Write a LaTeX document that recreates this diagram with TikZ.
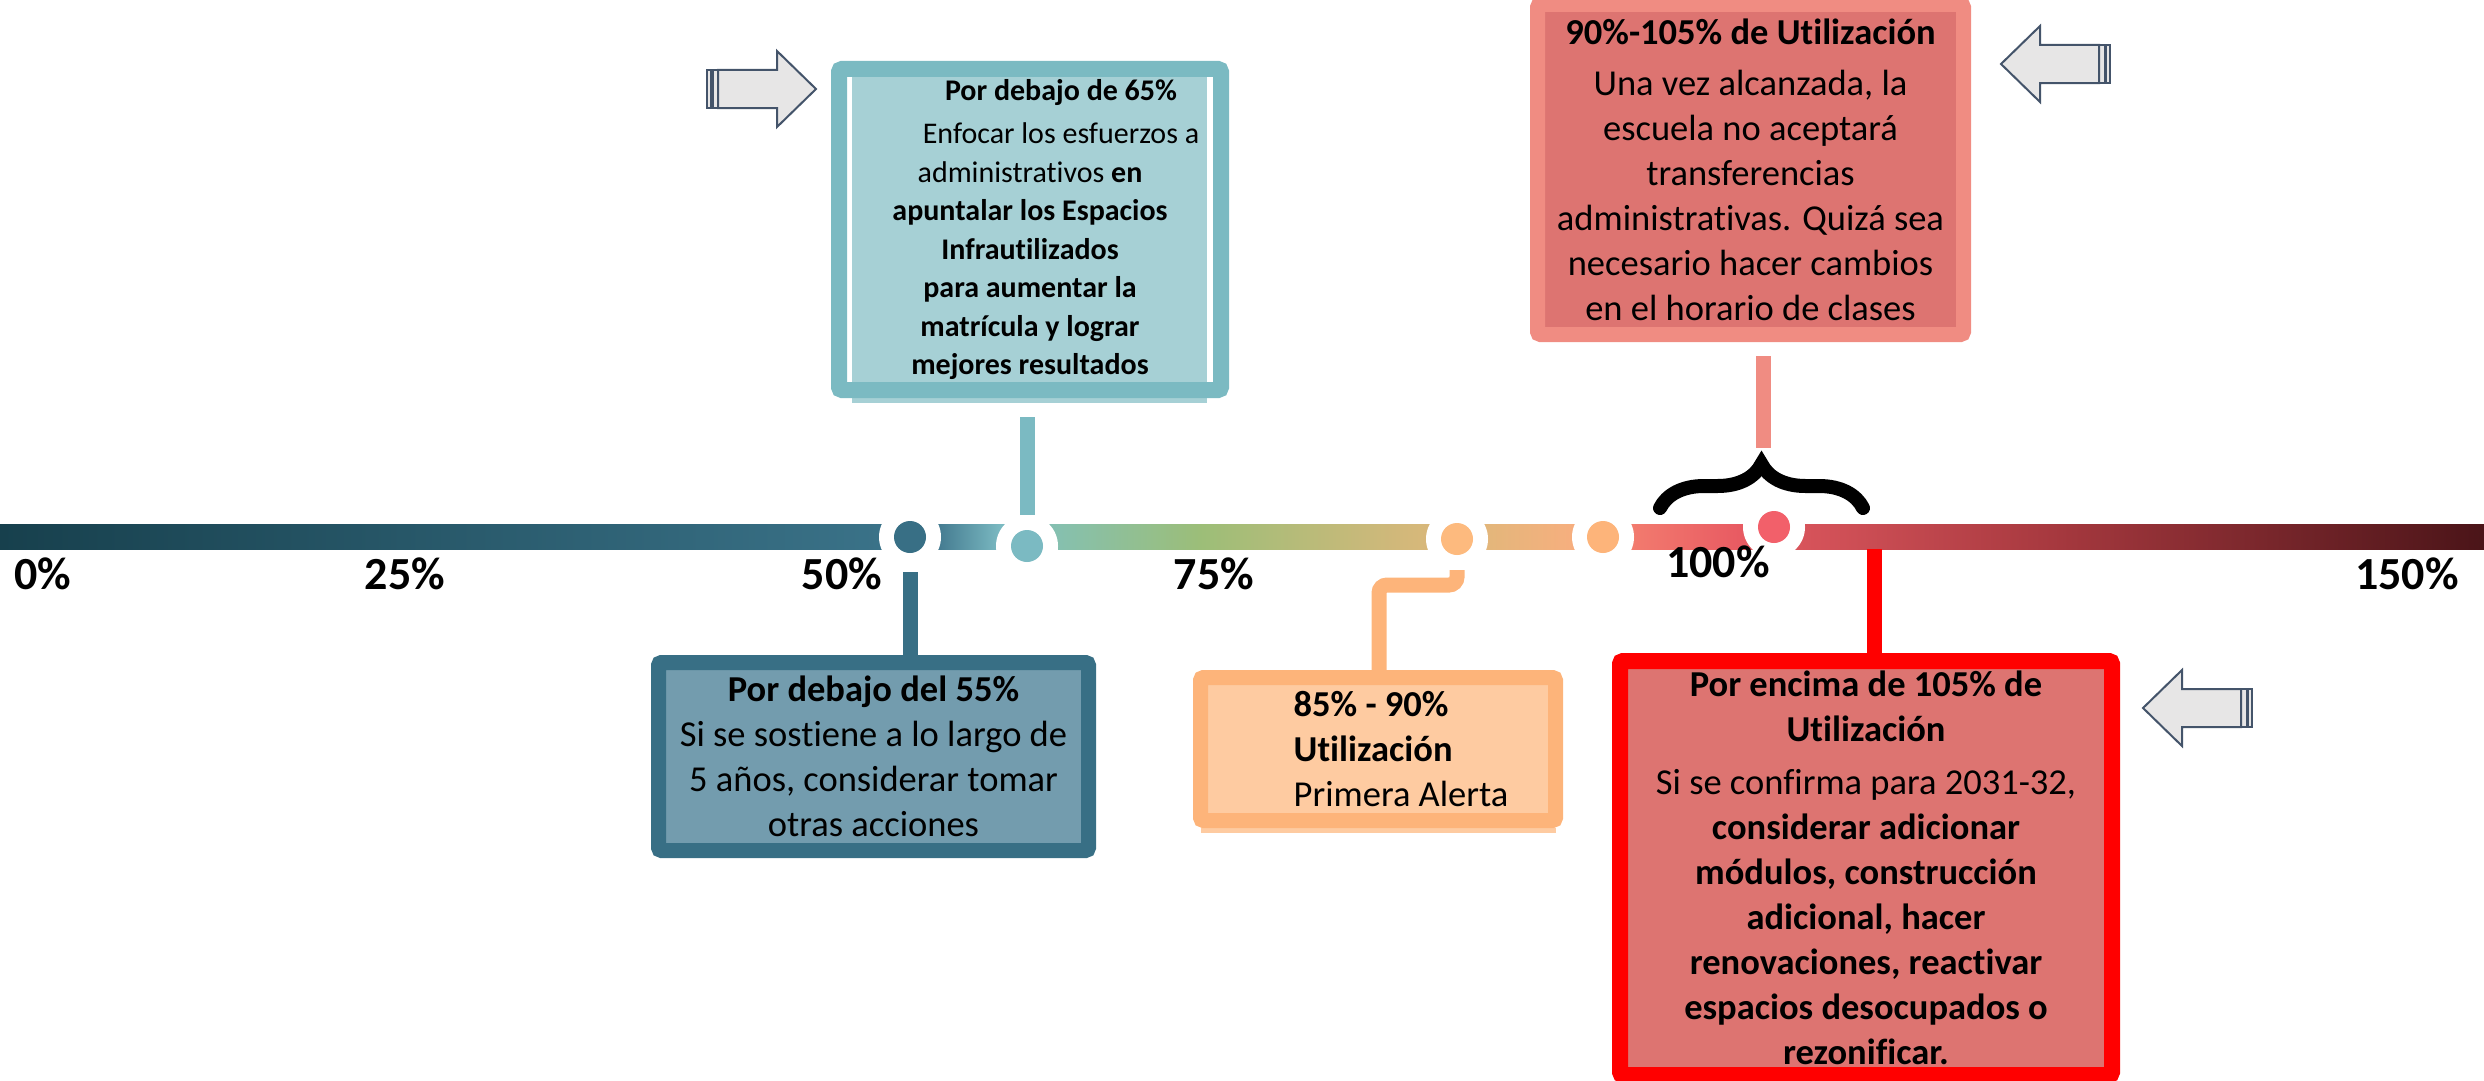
\documentclass[tikz,border=0pt]{standalone}
\usepackage{fontspec}
\setmainfont{Carlito}[Ligatures=NoCommon]
\usetikzlibrary{decorations.pathreplacing}
\definecolor{tealdark}{HTML}{386F85}
\definecolor{tealbox}{HTML}{739CAE}
\definecolor{teallight}{HTML}{7BBAC2}
\definecolor{tealpale}{HTML}{A6D0D5}
\definecolor{orangeline}{HTML}{FDB47A}
\definecolor{orangebox}{HTML}{FECBA1}
\definecolor{orangedot}{HTML}{FDBA7E}
\definecolor{salmon}{HTML}{F08C82}
\definecolor{rosebox}{HTML}{DD7471}
\definecolor{pinkdot}{HTML}{F2606A}
\definecolor{arrowfill}{HTML}{E7E6E6}
\definecolor{arrowline}{HTML}{44546A}
\definecolor{barA}{HTML}{17404D}
\definecolor{barB}{HTML}{3A7288}
\definecolor{barC}{HTML}{467D92}
\definecolor{barD}{HTML}{7BBAC2}
\definecolor{barE}{HTML}{86C0AE}
\definecolor{barF}{HTML}{9CBE78}
\definecolor{barG}{HTML}{D2B87A}
\definecolor{barH}{HTML}{E4B67B}
\definecolor{barI}{HTML}{F6AF7E}
\definecolor{barJ}{HTML}{F27A6E}
\definecolor{barK}{HTML}{E85A62}
\definecolor{barL}{HTML}{D6535A}
\definecolor{barM}{HTML}{A5383E}
\definecolor{barN}{HTML}{4A1418}
\tikzset{
  dot/.style={circle, fill=white, minimum size=62pt, inner sep=0pt,
    path picture={\fill[#1] (path picture bounding box.center) circle (16pt);}},
  box/.style={rectangle, rounded corners=3pt, inner sep=0pt, align=center},
  txt/.style={font=\fontsize{36.5}{45}\selectfont},
  link/.style={line width=15pt},
  pct/.style={anchor=base, font=\fontsize{46}{50}\selectfont\bfseries},
  arrline/.style={draw=arrowline, fill=arrowfill, line width=2pt, line join=miter},
  fatarrow/.pic={
    \path[arrline] (0,-19) rectangle (4,19);
    \path[arrline] (5.5,-19) rectangle (11,19);
    \path[arrline] (11,-19) -- (70,-19) -- (70,-38) -- (109,0) -- (70,38) -- (70,19) -- (11,19) -- cycle;
  }
}

\begin{document}
\begin{tikzpicture}[x=1pt, y=-1pt]
\useasboundingbox (0,0) rectangle (2484,1081);
\clip (0,0) rectangle (2484,1081);
\fill[tealpale] (852,77) rectangle (1207,382);
\fill[tealpale] (852,398) rectangle (1207,403);
\fill[orangebox] (1201,828) rectangle (1556,833);
\node[box, draw=teallight, line width=16pt, minimum width=382pt, minimum height=321pt,
  font=\fontsize{30}{38.5}\selectfont] (b65) at (1030,229.5)
  {\hspace*{62pt}\textbf{Por debajo de 65\%}\\[5pt]
   \hspace*{62pt}Enfocar los esfuerzos a\\
   administrativos \textbf{en}\\
   \textbf{apuntalar los Espacios}\\
   \textbf{Infrautilizados}\\
   \textbf{para aumentar la}\\
   \textbf{matrícula y lograr}\\
   \textbf{mejores resultados}};
\node[box, txt, draw=tealdark, fill=tealbox, line width=15pt, minimum width=430pt,
  minimum height=188pt] (b55) at (873.5,756.5)
  {\textbf{Por debajo del 55\%}\\
   Si se sostiene a lo largo de\\
   5 años, considerar tomar\\
   otras acciones};
\node[box, txt, align=left, draw=orangeline, fill=orangebox, line width=15pt, minimum width=355pt,
  minimum height=143pt] (b85) at (1378,749)
  {\hspace*{46pt}\textbf{85\% - 90\%}\\
   \hspace*{46pt}\textbf{Utilización}\\
   \hspace*{46pt}Primera Alerta};
\node[box, txt, draw=salmon, fill=rosebox, line width=15pt, minimum width=426pt,
  minimum height=330pt] (t105) at (1750.5,169.5)
  {\textbf{90\%-105\% de Utilización}\\[6pt]
   Una vez alcanzada, la\\
   escuela no aceptará\\
   transferencias\\
   administrativas. Quizá sea\\
   necesario hacer cambios\\
   en el horario de clases};
\node[box, txt, draw=red, fill=rosebox, line width=16pt, minimum width=492pt,
  minimum height=414pt] (b105) at (1866,868)
  {\textbf{Por encima de 105\% de}\\
   \textbf{Utilización}\\[8pt]
   Si se confirma para 2031-32,\\
   \textbf{considerar adicionar}\\
   \textbf{módulos, construcción}\\
   \textbf{adicional, hacer}\\
   \textbf{renovaciones, reactivar}\\
   \textbf{espacios desocupados o}\\
   \textbf{rezonificar.}};
\foreach \xa/\xb/\ca/\cb in {0/880/barA/barB, 880/940/barB/barC, 940/1000/barC/barD,
  1000/1060/barD/barE, 1060/1200/barE/barF, 1200/1400/barF/barG, 1400/1490/barG/barH,
  1490/1570/barH/barI, 1570/1635/barI/barJ, 1635/1740/barJ/barK, 1740/1806/barK/barL,
  1806/2060/barL/barM, 2060/2484/barM/barN}
  \shade[left color=\ca, right color=\cb] (\xa,524) rectangle (\xb+1,549);
\node[dot=tealdark] (m55) at (910,537) {};
\node[dot=teallight] (m65) at (1027,546) {};
\node[dot=orangedot] (m85) at (1457,539) {};
\node[dot=orangeline] (m90) at (1603,537) {};
\node[dot=pinkdot] (m102) at (1774,527) {};
\coordinate (bracetip) at (1763,457);
\coordinate (k85) at (1379,585);
\coordinate (r105) at (1874,549);
\draw[decorate, decoration={brace, amplitude=44pt}, line width=14pt, line cap=round]
  (1660,508) -- (1863,508);
\draw[link, teallight, shorten <=19pt] (b65.south -| m65) -- (m65);
\draw[link, tealdark, shorten <=4pt] (m55) -- (m55 |- b55.north);
\draw[link, orangeline, rounded corners=8pt] (m85) |- (k85) -- (k85 |- b85.north);
\draw[link, salmon, shorten <=14pt, shorten >=9pt] (t105.south -| bracetip) -- (bracetip);
\draw[link, red] (r105) -- (r105 |- b105.north);
\node[pct] (p0) at (43,589) {0\%};
\node[pct] (p25) at (405,589) {25\%};
\node[pct] (p50) at (842,589) {50\%};
\node[pct] (p75) at (1214,589) {75\%};
\node[pct] (p100) at (1718,577) {100\%};
\node[pct] (p150) at (2407,589) {150\%};
\pic at (707,89) {fatarrow};
\pic[xscale=-1] at (2110,64) {fatarrow};
\pic[xscale=-1] at (2252,708) {fatarrow};
\end{tikzpicture}
\end{document}
